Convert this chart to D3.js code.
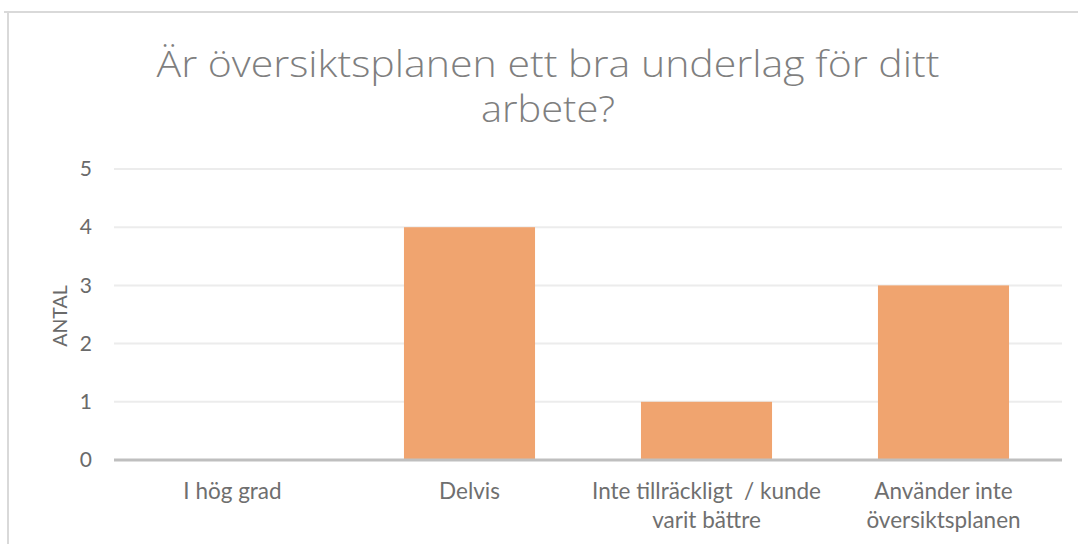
<!DOCTYPE html>
<html>
<head>
<meta charset="utf-8">
<script src="https://cdn.jsdelivr.net/npm/d3@7"></script>
<style>
  body { margin: 0; background: #fff; }
  svg { display: block; font-family: Lato, "Open Sans", sans-serif; }
</style>
</head>
<body>
<svg id="chart" width="1078" height="544"></svg>
<script>
// data
const categories = [
  ["I hög grad"],
  ["Delvis"],
  ["Inte tillräckligt  / kunde", "varit bättre"],
  ["Använder inte", "översiktsplanen"]
];
const values = [0, 4, 1, 3];
const yTicks = [0, 1, 2, 3, 4, 5];
const titleLines = ["Är översiktsplanen ett bra underlag för ditt", "arbete?"];
const yLabel = "ANTAL";

const margin = { top: 169, right: 16, bottom: 84, left: 114 };
const width = 1078 - margin.left - margin.right;
const height = 544 - margin.top - margin.bottom;

const svg = d3.select("#chart");

// chart frame (only top and left edges show in the crop)
svg.append("line")
  .attr("x1", 4).attr("x2", 1078).attr("y1", 12).attr("y2", 12)
  .attr("stroke", "#d9d9d9").attr("stroke-width", 2);
svg.append("line")
  .attr("x1", 8).attr("x2", 8).attr("y1", 12).attr("y2", 544)
  .attr("stroke", "#d9d9d9").attr("stroke-width", 2);

// title
const tl = [[77, 783], [122, 134]];
titleLines.forEach((t, i) => {
  svg.append("text")
    .attr("x", 548).attr("y", tl[i][0])
    .attr("text-anchor", "middle")
    .attr("fill", "#7f7f7f")
    .style("font-family", "Open Sans, sans-serif")
    .style("font-size", "36px")
    .style("font-weight", 300)
    .attr("textLength", tl[i][1])
    .attr("lengthAdjust", "spacingAndGlyphs")
    .text(t);
});

const g = svg.append("g")
  .attr("transform", `translate(${margin.left},${margin.top})`);

const x = d3.scaleBand()
  .domain(d3.range(categories.length))
  .range([0, width])
  .paddingInner(0.447)
  .paddingOuter(0.2235);

const y = d3.scaleLinear()
  .domain([0, 5])
  .range([height, 0]);

// gridlines
g.selectAll(".grid")
  .data(yTicks.filter(d => d > 0))
  .join("line")
  .attr("class", "grid")
  .attr("x1", 0).attr("x2", width)
  .attr("y1", d => y(d)).attr("y2", d => y(d))
  .attr("stroke", "#ececec")
  .attr("stroke-width", 2);

// bars
g.selectAll(".bar")
  .data(values)
  .join("rect")
  .attr("class", "bar")
  .attr("x", (d, i) => x(i))
  .attr("y", d => y(d))
  .attr("width", x.bandwidth())
  .attr("height", d => height - y(d))
  .attr("fill", "#f0a46f");

// baseline
g.append("line")
  .attr("x1", 0).attr("x2", width)
  .attr("y1", height).attr("y2", height)
  .attr("stroke", "#bfbfbf")
  .attr("stroke-width", 3);

// y axis labels
const yAxis = d3.axisLeft(y).tickValues(yTicks).tickFormat(d3.format("d")).tickSize(0).tickPadding(22);
const ya = g.append("g").call(yAxis);
ya.select(".domain").remove();
ya.selectAll("text")
  .attr("fill", "#6a6a6a")
  .style("font-size", "21px")
  .style("font-family", "Lato, sans-serif");

// x labels
const xl = g.selectAll(".xlab")
  .data(categories)
  .join("text")
  .attr("class", "xlab")
  .attr("text-anchor", "middle")
  .attr("fill", "#6f6f6f")
  .style("font-size", "22.5px");
xl.selectAll("tspan")
  .data(d => d)
  .join("tspan")
  .attr("x", function() {
    const i = categories.indexOf(d3.select(this.parentNode).datum());
    return x(i) + x.bandwidth() / 2;
  })
  .attr("y", (d, j) => height + 39 + j * 29)
  .style("white-space", "pre")
  .text(d => d);

// y axis title
svg.append("text")
  .attr("transform", "translate(67,316) rotate(-90)")
  .attr("text-anchor", "middle")
  .attr("fill", "#6a6a6a")
  .style("font-size", "19.5px")
  .text(yLabel);
</script>
</body>
</html>
